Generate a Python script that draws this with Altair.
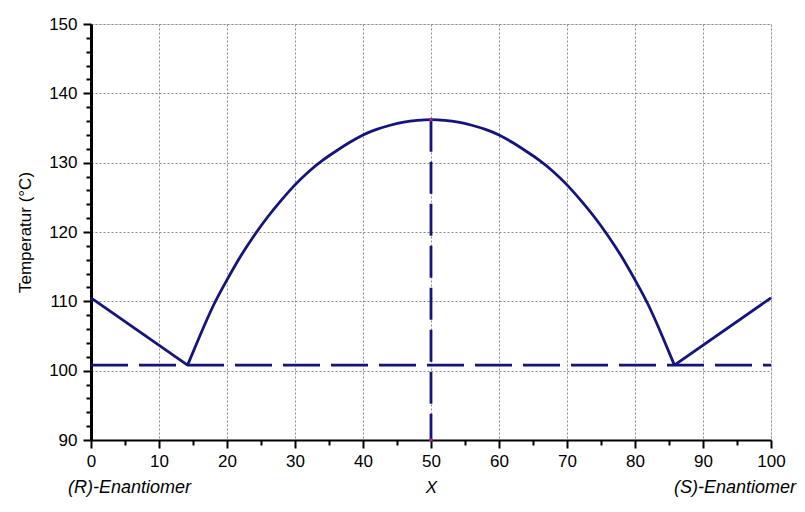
import altair as alt
import pandas as pd

# ---- data ----
left_x = [0, 14.2]
left_y = [110.5, 100.8]
arch_x = [14.2, 16, 18, 20, 22, 24, 26, 28, 30, 32, 34, 36, 38, 40, 42, 44, 46, 48, 50,
          52, 54, 56, 58, 60, 62, 64, 66, 68, 70, 72, 74, 76, 78, 80, 82, 84, 85.8]
arch_y = [100.8, 105.0, 109.4, 113.1, 116.5, 119.5, 122.2, 124.6, 126.8, 128.7, 130.3, 131.65, 132.9,
          134.0, 134.8, 135.4, 135.85, 136.1, 136.2,
          136.1, 135.85, 135.4, 134.8, 134.0, 132.9, 131.65, 130.3, 128.7, 126.8, 124.6, 122.2,
          119.5, 116.5, 113.1, 109.4, 105.0, 100.8]
right_x = [85.8, 100]
right_y = [100.8, 110.5]

eutectic_T = 100.8
racemate_x = 50
racemate_T = 136.2
y_min = 90

x_ticks = list(range(0, 101, 10))
x_minor = list(range(5, 100, 10))
y_ticks = list(range(90, 151, 10))
y_minor = [v for v in range(92, 150, 2) if v % 10]

end_labels = ["(R)-Enantiomer", "(S)-Enantiomer"]
end_x = [0, 100]

NAVY = "#14147c"
FONT = "Liberation Sans"

rows = []
for seg, xs_, ys_ in (("left", left_x, left_y), ("arch", arch_x, arch_y), ("right", right_x, right_y)):
    for i, (a, b) in enumerate(zip(xs_, ys_)):
        rows.append({"seg": seg, "i": i, "x": a, "T": b})
curve = pd.DataFrame(rows)

xs = alt.Scale(domain=[0, 100], nice=False, zero=False)
ys = alt.Scale(domain=[90, 150], nice=False, zero=False)

x_axis = alt.Axis(values=x_ticks, title="X", titleFontStyle="italic", titleFontWeight="normal",
                  titleFontSize=17, titlePadding=10, titleFont=FONT, titleColor="black", labelFont=FONT,
                  labelFontSize=17, labelColor="black", labelPadding=5, tickSize=8, tickWidth=2,
                  tickColor="black", domainColor="black", domainWidth=2, grid=True,
                  gridDash=[2, 2], gridColor="#8a8a8a", gridWidth=1, labelFlush=False, orient="bottom")
y_axis = alt.Axis(values=y_ticks, title="Temperatur (°C)", titleFontWeight="normal",
                  titleFontSize=17, titlePadding=14, titleFont=FONT, titleColor="black",
                  labelFont=FONT, labelFontSize=17, labelColor="black", labelPadding=6,
                  tickSize=8, tickWidth=2, tickColor="black", domainColor="black", domainWidth=3,
                  grid=True, gridDash=[2, 2], gridColor="#8a8a8a", gridWidth=1, orient="left")

lines = alt.Chart(curve).mark_line(color=NAVY, strokeWidth=2.8, interpolate="natural").encode(
    x=alt.X("x:Q", scale=xs, axis=x_axis),
    y=alt.Y("T:Q", scale=ys, axis=y_axis),
    detail="seg:N",
    order="i:Q",
)

minor = alt.Chart(curve).mark_point(opacity=0).encode(
    x=alt.X("x:Q", scale=xs, axis=alt.Axis(values=x_minor, labels=False, title=None, domain=False,
                                            grid=False, tickSize=5, tickWidth=2, tickColor="black",
                                            orient="bottom")),
    y=alt.Y("T:Q", scale=ys, axis=alt.Axis(values=y_minor, labels=False, title=None, domain=False,
                                            grid=False, tickSize=5, tickWidth=2, tickColor="black",
                                            orient="left")),
)

hdf = pd.DataFrame({"x": [0], "x2": [100], "T": [eutectic_T]})
hline = alt.Chart(hdf).mark_rule(color=NAVY, strokeWidth=2.8, strokeDash=[37, 11]).encode(
    x=alt.X("x:Q", scale=xs, axis=None), x2="x2:Q", y=alt.Y("T:Q", scale=ys, axis=None))

vdf = pd.DataFrame({"x": [racemate_x], "T": [racemate_T], "T2": [y_min]})
vline = alt.Chart(vdf).mark_rule(color=NAVY, strokeWidth=2.8, strokeDash=[32, 10]).encode(
    x=alt.X("x:Q", scale=xs, axis=None), y=alt.Y("T:Q", scale=ys, axis=None), y2="T2:Q")

pdf = pd.DataFrame({"x": [racemate_x, racemate_x], "T": [racemate_T, y_min]})
dots = alt.Chart(pdf).mark_point(filled=True, color="#a3238f", size=14, opacity=1).encode(
    x=alt.X("x:Q", scale=xs, axis=None), y=alt.Y("T:Q", scale=ys, axis=None))

ldf = pd.DataFrame({"x": [end_x[0]], "t": [end_labels[0]]})
rdf = pd.DataFrame({"x": [end_x[1]], "t": [end_labels[1]]})
lab_l = alt.Chart(ldf).mark_text(align="left", baseline="alphabetic", dx=-23, font=FONT, fontSize=18,
                                 fontStyle="italic", color="black").encode(
    x=alt.X("x:Q", scale=xs, axis=None), y=alt.value(469), text="t:N")
lab_r = alt.Chart(rdf).mark_text(align="right", baseline="alphabetic", dx=25, font=FONT, fontSize=18,
                                 fontStyle="italic", color="black").encode(
    x=alt.X("x:Q", scale=xs, axis=None), y=alt.value(469), text="t:N")

chart = alt.layer(lines, minor, hline, vline, dots, lab_l, lab_r).resolve_axis(
    x="independent", y="independent"
).properties(
    width=680, height=416,
    autosize=alt.AutoSizeParams(type="none"),
    padding={"left": 83, "top": 16, "right": 26, "bottom": 58},
).configure_view(stroke="black", strokeWidth=1).configure(background="white")

chart.save("out.html", embed_options={"renderer": "svg", "actions": False})
